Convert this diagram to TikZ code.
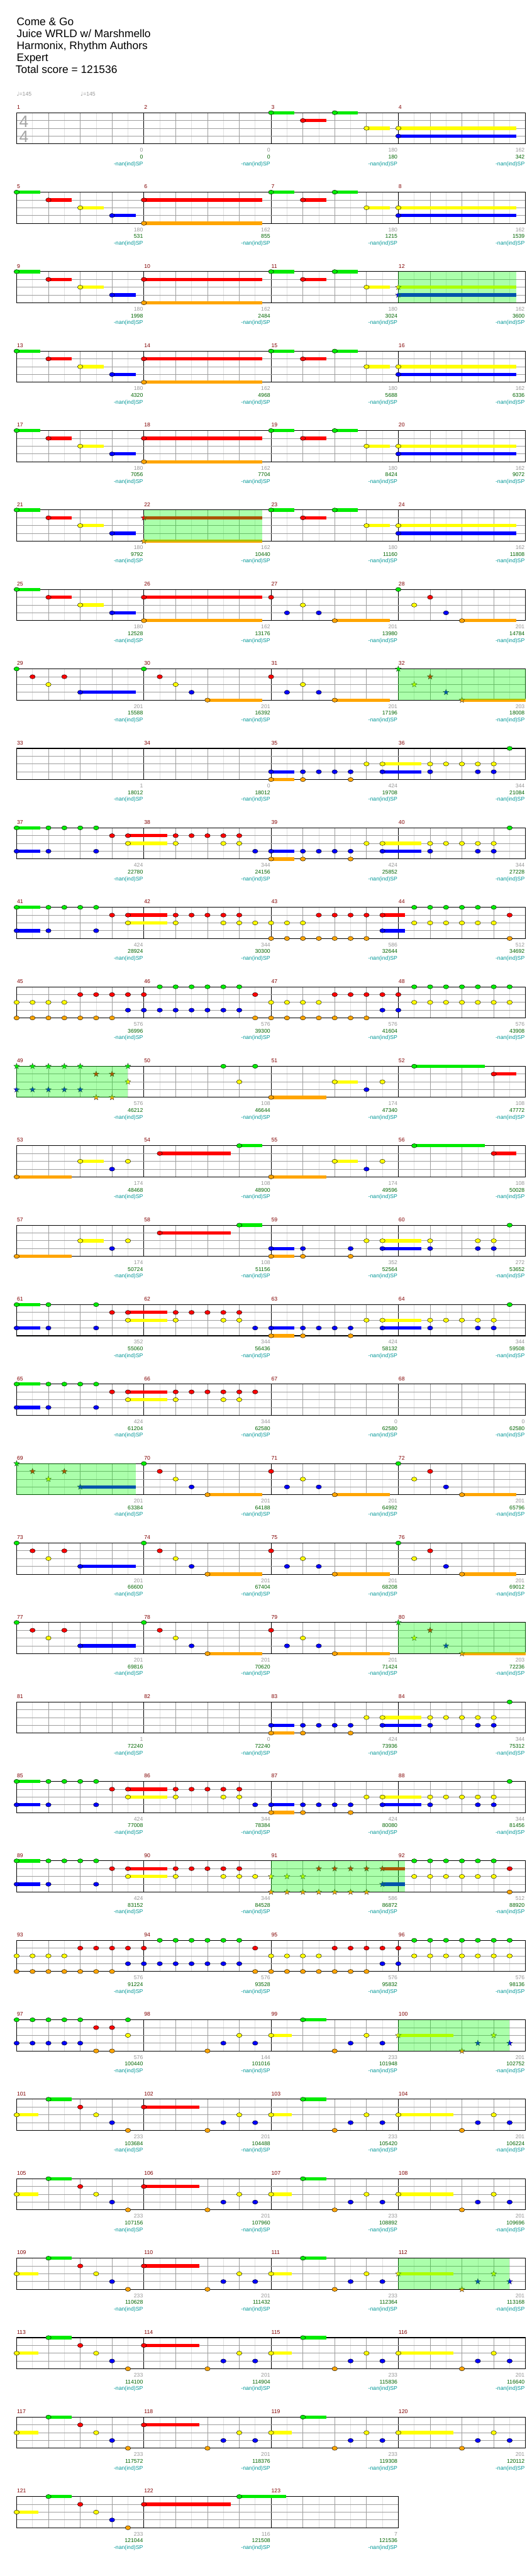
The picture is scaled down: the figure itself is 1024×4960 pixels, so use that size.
\documentclass[tikz,border=0pt]{standalone}
\usepackage{fontspec}
\setmainfont{Liberation Sans}
\newfontfamily\symfont{DejaVu Sans}

\definecolor{lane0}{RGB}{0,235,0}
\definecolor{lane1}{RGB}{255,0,0}
\definecolor{lane2}{RGB}{255,255,0}
\definecolor{lane3}{RGB}{0,0,255}
\definecolor{lane4}{RGB}{255,165,0}
\definecolor{barnum}{RGB}{128,0,0}
\definecolor{gaintext}{RGB}{150,150,150}
\definecolor{scoretext}{RGB}{0,100,0}
\definecolor{sptext}{RGB}{0,150,150}
\definecolor{spfill}{RGB}{0,255,0}

% notes of a row: pos/lane/sustain end (eighths from the row start, 0 = no sustain)
\newcommand\chartnotes[2]{%
  \foreach \pos/\lane/\tail in #2 {%
    \ifdim\tail pt>0pt
      \fill[lane\lane] ({32+30.625*\pos},{217+153*#1+15*\lane-3.2})
        rectangle ({32+30.625*\tail},{217+153*#1+15*\lane+3.2});
    \fi
  }%
  \foreach \pos/\lane/\tail in #2 {%
    \filldraw[notehead,fill=lane\lane] ({32+30.625*\pos},{217+153*#1+15*\lane})
      ellipse [x radius=5.2,y radius=4];
  }%
}
\newcommand\chartstars[2]{%
  \foreach \pos/\lane/\tail in #2 {%
    \ifdim\tail pt>0pt
      \fill[lane\lane] ({32+30.625*\pos},{217+153*#1+15*\lane-3.2})
        rectangle ({32+30.625*\tail},{217+153*#1+15*\lane+3.2});
    \fi
  }%
  \foreach \pos/\lane/\tail in #2 {%
    \filldraw[starnote,fill=lane\lane] ({32+30.625*\pos},{217+153*#1+15*\lane})
      +(-90:5.8) -- +(-54:2.4) -- +(-18:5.8) -- +(18:2.4) -- +(54:5.8)
      -- +(90:2.4) -- +(126:5.8) -- +(162:2.4) -- +(198:5.8) -- +(234:2.4) -- cycle;
  }%
}
\newcommand\spzone[3]{%
  \fill[spzone] ({32+30.625*#2},{217+153*#1}) rectangle ({32+30.625*#3},{277+153*#1});}

\def\hA{0/0/1.48,2/1/3.48,4/2/5.48,6/3/7.48,8/1/15.46,8/4/15.46}
\def\hAs{0/0/1.48,2/1/3.48,4/2/5.48,6/3/7.48}
\def\hB{16/0/17.46,18/1/19.46,20/0/21.46,22/2/23.46,24/2/31.41,24/3/31.41}
\def\hBs{16/0/17.46,18/1/19.46,20/0/21.46,22/2/23.46}
\def\cA{0/0/0,1/1/0,2/2/0,3/1/0,4/3/7.48}
\def\cB{8/0/0,9/1/0,10/2/0,11/3/0,12/4/15.46}
\def\cC{16/1/0,17/3/0,18/2/0,19/3/0,20/4/23.46}
\def\cD{24/0/0,25/2/0,26/1/0,27/3/0,28/4/31.41}
\def\cDs{24/0/0,25/2/0,26/1/0,27/3/0,28/4/32}
\def\dB{16/3/17.46,16/4/17.46,18/3/0,18/4/0,19/3/0,20/3/0,21/3/0,21/4/0,22/2/0,
  23/2/25.46,23/3/25.46,26/2/0,26/3/0,27/2/0,28/2/0,29/2/0,29/3/0,30/2/0,30/3/0,31/0/0}
\def\eA{0/0/1.48,0/3/1.48,2/0/0,2/3/0,3/0/0,4/0/0,5/0/0,5/3/0,6/1/0,7/1/9.48,7/2/9.48,
  10/1/0,10/2/0,11/1/0,12/1/0,13/1/0,13/2/0,14/1/0,14/2/0}
\def\eAv{0/0/1.48,0/3/1.48,2/0/0,2/3/0,5/0/0,5/3/0,6/1/0,7/1/9.48,7/2/9.48,
  10/1/0,10/2/0,11/1/0,12/1/0,13/1/0,13/2/0,14/1/0,14/2/0}
\def\fS{16/2/0,16/4/0,17/2/0,17/4/0,18/2/0,18/4/0,19/1/0,19/4/0,20/1/0,20/4/0,
  21/1/0,21/4/0,22/1/0,22/4/0,23/1/24.43,23/3/24.43}
\def\fC{25/0/0,25/2/0,26/0/0,26/2/0,27/0/0,27/2/0,28/0/0,28/2/0,29/0/0,29/2/0,
  30/0/0,30/2/0,31/1/0,31/4/0}
\def\gR{0/2/0,1/2/0,2/2/0,3/2/0,0/4/0,1/4/0,2/4/0,3/4/0,4/4/0,5/4/0,6/4/0,
  4/1/0,5/1/0,6/1/0,7/1/0,8/1/0,7/3/0,8/3/0,9/3/0,10/3/0,11/3/0,12/3/0,13/3/0,14/3/0,
  9/0/0,10/0/0,11/0/0,12/0/0,13/0/0,14/0/0,15/1/0,15/4/0,
  16/2/0,17/2/0,18/2/0,19/2/0,16/4/0,17/4/0,18/4/0,19/4/0,20/4/0,21/4/0,22/4/0,
  20/1/0,21/1/0,22/1/0,23/1/0,24/1/0,23/3/0,24/3/0,
  25/0/0,26/0/0,27/0/0,28/0/0,29/0/0,30/0/0,31/0/0,
  25/2/0,26/2/0,27/2/0,28/2/0,29/2/0,30/2/0,31/2/0}
\def\jA{0/0/0,1/0/0,2/0/0,3/0/0,4/0/0,7/0/0,0/3/0,1/3/0,2/3/0,3/3/0,4/3/0,
  5/1/0,6/1/0,5/4/0,6/4/0,7/2/0}
\def\kA{0/4/3.48,4/2/5.48,6/3/0,7/2/0,9/1/13.48,14/0/15.46}
\def\kB{16/4/19.46,20/2/21.46,22/3/0,23/2/0,25/0/29.46,30/1/31.41}
\def\hHa{0/2/1.35,2/0/3.48,4/1/0,5/2/0,6/3/0,7/4/0,8/1/11.48}
\def\hHb{12/4/0,13/3/0,14/2/0,15/3/0,16/2/17.3,18/0/19.46,20/4/0,21/3/0,22/2/0,23/3/0}
\def\hHe{24/2/27.46,28/4/0,29/3/0,30/2/0,31/3/0}

\begin{document}
\begin{tikzpicture}[x=1pt,y=-1pt,
  eighth/.style={draw=black!12,line width=0.8pt},
  beat/.style={draw=black!38,line width=0.8pt},
  stringline/.style={draw=black!38,line width=1pt},
  barline/.style={draw=black,line width=0.8pt},
  staffbox/.style={draw=black,line width=1.3pt},
  notehead/.style={draw=black,line width=0.5pt},
  starnote/.style={draw=black!80,line width=0.4pt},
  spzone/.style={fill=spfill,fill opacity=0.33},
  small/.style={font=\fontsize{10.5}{12}\selectfont,inner sep=0pt},
  barno/.style={small,text=barnum,anchor=base west},
  gain/.style={small,text=gaintext,anchor=base east},
  score/.style={small,text=scoretext,anchor=base east},
  splabel/.style={small,text=sptext,anchor=base east},
  head/.style={font=\fontsize{21}{23}\selectfont,inner sep=0pt,anchor=base west},
  tempo/.style={small,text=gaintext,anchor=base west},
  timesig/.style={font=\fontsize{32}{32}\selectfont,text=black!35,inner sep=0pt,anchor=base}
]
\useasboundingbox (0,0) rectangle (1024,4960);

% header
\node[head] (title) at (32,49) {Come \& Go};
\node[head] (artist) at (32,72) {Juice WRLD w/ Marshmello};
\node[head] (charter) at (32,95) {Harmonix, Rhythm Authors};
\node[head] (diff) at (32,118) {Expert};
\node[head] (total) at (30,141) {Total score = 121536};
\node[tempo] (bpmA) at (32,185) {{\symfont ♩}=145};
\node[tempo] (bpmB) at (155,185) {{\symfont ♩}=145};

% staves
\foreach \rw in {0,...,30} {
  \pgfmathsetmacro\rowT{217+153*\rw}
  \ifnum\rw<30 \def\rowR{1012}\def\rowN{31}\else\def\rowR{767}\def\rowN{23}\fi
  \foreach \k in {1,...,\rowN} \draw[eighth] ({32+30.625*\k},\rowT) -- ++(0,60);
  \foreach \k in {2,4,...,\rowN} \draw[beat] ({32+30.625*\k},\rowT) -- ++(0,60);
  \foreach \k in {8,16,...,\rowN} \draw[barline] ({32+30.625*\k},\rowT) -- ++(0,60);
  \foreach \d in {15,30,45} \draw[stringline] (32,\rowT+\d) -- (\rowR,\rowT+\d);
  \draw[staffbox] (32,\rowT) rectangle (\rowR,\rowT+60);
}
\node[timesig] (tsA) at (46,245) {4};
\node[timesig] (tsB) at (46,274) {4};

% measure numbers and counters
\foreach \m/\gv/\sv [count=\i from 0] in {1/0/0,2/0/0,3/180/180,4/162/342,
  5/180/531,6/162/855,7/180/1215,8/162/1539,9/180/1998,10/162/2484,11/180/3024,12/162/3600,
  13/180/4320,14/162/4968,15/180/5688,16/162/6336,17/180/7056,18/162/7704,19/180/8424,20/162/9072,
  21/180/9792,22/162/10440,23/180/11160,24/162/11808,25/180/12528,26/162/13176,27/201/13980,28/201/14784,
  29/201/15588,30/201/16392,31/201/17196,32/203/18008,33/1/18012,34/0/18012,35/424/19708,36/344/21084,
  37/424/22780,38/344/24156,39/424/25852,40/344/27228,41/424/28924,42/344/30300,43/586/32644,44/512/34692,
  45/576/36996,46/576/39300,47/576/41604,48/576/43908,49/576/46212,50/108/46644,51/174/47340,52/108/47772,
  53/174/48468,54/108/48900,55/174/49596,56/108/50028,57/174/50724,58/108/51156,59/352/52564,60/272/53652,
  61/352/55060,62/344/56436,63/424/58132,64/344/59508,65/424/61204,66/344/62580,67/0/62580,68/0/62580,
  69/201/63384,70/201/64188,71/201/64992,72/201/65796,73/201/66600,74/201/67404,75/201/68208,76/201/69012,
  77/201/69816,78/201/70620,79/201/71424,80/203/72236,81/1/72240,82/0/72240,83/424/73936,84/344/75312,
  85/424/77008,86/344/78384,87/424/80080,88/344/81456,89/424/83152,90/344/84528,91/586/86872,92/512/88920,
  93/576/91224,94/576/93528,95/576/95832,96/576/98136,97/576/100440,98/144/101016,99/233/101948,100/201/102752,
  101/233/103684,102/201/104488,103/233/105420,104/201/106224,105/233/107156,106/201/107960,107/233/108892,108/201/109696,
  109/233/110628,110/201/111432,111/233/112364,112/201/113168,113/233/114100,114/201/114904,115/233/115836,116/201/116640,
  117/233/117572,118/201/118376,119/233/119308,120/201/120112,121/233/121044,122/116/121508,123/7/121536} {
  \pgfmathtruncatemacro\rw{int(\i/4)}
  \pgfmathtruncatemacro\cl{mod(\i,4)}
  \pgfmathsetmacro\xa{32+245*\cl}
  \pgfmathsetmacro\xb{277+245*\cl}
  \pgfmathsetmacro\rowT{217+153*\rw}
  \node[barno] (mn\m) at (\xa+0.5,\rowT-7) {\m};
  \node[gain] (gn\m) at (\xb-1.5,\rowT+75.7) {\gv};
  \node[score] (sc\m) at (\xb-1.5,\rowT+88.7) {\sv};
  \node[splabel] (sp\m) at (\xb-1.5,\rowT+101.5) {-nan(ind)SP};
}

% notes
\chartnotes{0}{\hB}
\chartnotes{1}{\hA} \chartnotes{1}{\hB}
\chartnotes{2}{\hA} \chartnotes{2}{\hBs} \chartstars{2}{{24/2/31.41,24/3/31.41}}
\chartnotes{3}{\hA} \chartnotes{3}{\hB}
\chartnotes{4}{\hA} \chartnotes{4}{\hB}
\chartnotes{5}{\hAs} \chartstars{5}{{8/1/15.46,8/4/15.46}} \chartnotes{5}{\hB}
\chartnotes{6}{\hA} \chartnotes{6}{\cC} \chartnotes{6}{\cD}
\chartnotes{7}{\cA} \chartnotes{7}{\cB} \chartnotes{7}{\cC} \chartstars{7}{\cDs}
\chartnotes{8}{\dB}
\chartnotes{9}{\eA} \chartnotes{9}{{15/3/0}} \chartnotes{9}{\dB}
\chartnotes{10}{\eA} \chartnotes{10}{{15/2/0}} \chartnotes{10}{\fS} \chartnotes{10}{\fC}
\chartnotes{11}{\gR}
\chartstars{12}{\jA} \chartnotes{12}{{13/0/0,14/2/0,15/0/0}} \chartnotes{12}{\kB}
\chartnotes{13}{\kA} \chartnotes{13}{\kB}
\chartnotes{14}{\kA}
\chartnotes{14}{{16/3/17.46,16/4/17.46,18/3/0,18/4/0,21/3/0,21/4/0,22/2/0,23/2/25.46,
  23/3/25.46,26/2/0,26/3/0,29/2/0,29/3/0,30/2/0,30/3/0,31/0/0}}
\chartnotes{15}{\eAv} \chartnotes{15}{{15/3/0}} \chartnotes{15}{\dB}
\chartnotes{16}{\eA} \chartnotes{16}{{15/1/0}}
\chartstars{17}{\cA} \chartnotes{17}{\cB} \chartnotes{17}{\cC} \chartnotes{17}{\cD}
\chartnotes{18}{\cA} \chartnotes{18}{\cB} \chartnotes{18}{\cC} \chartnotes{18}{\cD}
\chartnotes{19}{\cA} \chartnotes{19}{\cB} \chartnotes{19}{\cC} \chartstars{19}{\cDs}
\chartnotes{20}{\dB}
\chartnotes{21}{\eA} \chartnotes{21}{{15/3/0}} \chartnotes{21}{\dB}
\chartnotes{22}{\eA} \chartnotes{22}{{15/2/0}} \chartstars{22}{\fS} \chartnotes{22}{\fC}
\chartnotes{23}{\gR}
\chartnotes{24}{\jA} \chartnotes{24}{\hHb} \chartstars{24}{\hHe}
\chartnotes{25}{\hHa} \chartnotes{25}{\hHb} \chartnotes{25}{\hHe}
\chartnotes{26}{\hHa} \chartnotes{26}{\hHb} \chartnotes{26}{\hHe}
\chartnotes{27}{\hHa} \chartnotes{27}{\hHb} \chartstars{27}{\hHe}
\chartnotes{28}{\hHa} \chartnotes{28}{\hHb} \chartnotes{28}{\hHe}
\chartnotes{29}{\hHa} \chartnotes{29}{\hHb} \chartnotes{29}{\hHe}
\chartnotes{30}{{0/2/1.35,2/0/3.48,4/1/0,5/2/0,6/3/0,7/4/0,8/1/13.48,14/0/16.96}}

% star power phrases
\spzone{2}{24}{31.41}
\spzone{5}{8}{15.46}
\spzone{7}{24}{32}
\spzone{12}{0}{7}
\spzone{17}{0}{7.48}
\spzone{19}{24}{32}
\spzone{22}{16}{24.43}
\spzone{24}{24}{31}
\spzone{27}{24}{31}
\end{tikzpicture}
\end{document}
